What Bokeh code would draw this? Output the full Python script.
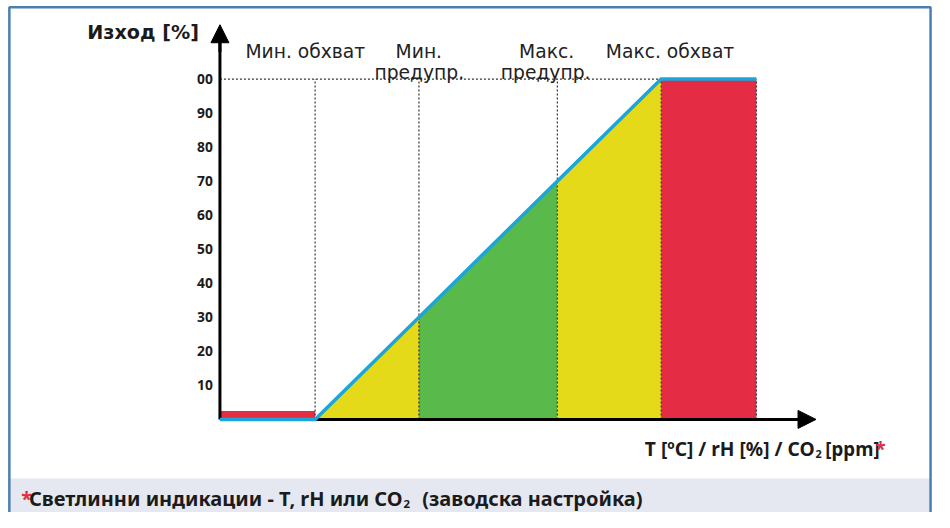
from bokeh.plotting import figure
from bokeh.models import Range1d, Arrow, NormalHead
from bokeh.embed import file_html
from bokeh.resources import INLINE
from bokeh.core.properties import value

# ---------------- data ----------------
# controller output [%] as a function of the measured input (in % of the range)
ramp_x = [-27.5, 0, 100, 127.5]
ramp_y = [0, 0, 100, 100]
# zone boundaries (input %): min coverage, min warning, max warning, max coverage, end
zone_edges = [0, 30, 70, 100, 127.5]
low_bar_x = [-27.5, 0]
low_bar_top = 2.5
y_ticks = [10, 20, 30, 40, 50, 60, 70, 80, 90, 100]
y_tick_labels = ["10", "20", "30", "40", "50", "60", "70", "80", "90", "00"]
zone_line1 = ["Мин. обхват", "Мин.", "Макс.", "Макс. обхват"]
zone_line2 = ["", "предупр.", "предупр.", ""]
y_title = "Изход [%]"
x_title_main = "T [ºC] / rH [%] / CO"
x_title_sub = "2"
x_title_tail = "[ppm]"
footer_main = "Светлинни индикации - T, rH или CO"
footer_sub = "2"
footer_tail = "(заводска настройка)"

# ---------------- layout ----------------
# positions below are given in a 950 x 528 design grid that is scaled onto the canvas
W, H = 934, 512
GW, GH = 950.0, 528.0
FS = W / GW
X0_PX, X100_PX = 320.0, 672.0
Y0_PX, Y100_PX = 432.0, 81.0
SX = (X100_PX - X0_PX) / 100.0
SY = (Y0_PX - Y100_PX) / 100.0


def px2x(X):
    return (X - X0_PX) / SX


def py2y(Y):
    return (Y0_PX - Y) / SY


def fs(size):
    return f"{size * FS:.1f}px"


YELLOW = "#E5DA1A"
GREEN = "#59B94B"
RED = "#E52C45"
BLUE = "#1AA6D9"
BORDER = "#4A80B0"
BAND = "#E6E8F1"
INK = "#1b1b1b"
GUIDE = "#333333"

p = figure(width=W, height=H,
           x_range=Range1d(px2x(0), px2x(GW)),
           y_range=Range1d(py2y(GH), py2y(0)),
           x_axis_type=None, y_axis_type=None,
           toolbar_location=None, output_backend="svg",
           min_border=0, outline_line_color=None,
           background_fill_color="white", border_fill_color="white")

# footer band and frame border
p.quad(left=px2x(9), right=px2x(946), bottom=py2y(GH), top=py2y(493),
       fill_color=BAND, line_color=None)
p.multi_line(xs=[[px2x(9), px2x(9), px2x(946), px2x(946)]],
             ys=[[py2y(GH), py2y(7), py2y(7), py2y(GH)]],
             line_color=BORDER, line_width=2.5)

# zones
e = zone_edges
p.patch([e[0], e[1], e[1]], [ramp_y[1], e[1], 0], fill_color=YELLOW, line_color=None)
p.patch([e[1], e[1], e[2], e[2]], [0, e[1], e[2], 0], fill_color=GREEN, line_color=None)
p.patch([e[2], e[2], e[3], e[3]], [0, e[2], e[3], 0], fill_color=YELLOW, line_color=None)
p.quad(left=e[3], right=e[4], bottom=0, top=ramp_y[-1], fill_color=RED, line_color=None)
p.quad(left=low_bar_x[0], right=low_bar_x[1], bottom=0, top=low_bar_top,
       fill_color=RED, line_color=None)

# dotted guides
p.segment(x0=e, y0=[0] * len(e), x1=e, y1=[100] * len(e),
          line_color=GUIDE, line_width=1.2, line_dash="2 2")
p.segment(x0=[ramp_x[0]], y0=[100], x1=[e[3]], y1=[100],
          line_color=GUIDE, line_width=1.2, line_dash="2 2")

# axes
y_tip = py2y(25)
x_tip = px2x(829.5)
p.segment(x0=[ramp_x[0]], y0=[0], x1=[ramp_x[0]], y1=[y_tip - 3], line_color="black", line_width=3)
p.segment(x0=[ramp_x[0]], y0=[0], x1=[x_tip - 3], y1=[0], line_color="black", line_width=3)
p.add_layout(Arrow(end=NormalHead(size=18, fill_color="black", line_color="black"),
                   x_start=ramp_x[0], y_start=y_tip - 8, x_end=ramp_x[0], y_end=y_tip,
                   line_color="black", line_width=3))
p.add_layout(Arrow(end=NormalHead(size=18, fill_color="black", line_color="black"),
                   x_start=x_tip - 8, y_start=0, x_end=x_tip, y_end=0,
                   line_color="black", line_width=3))

# output characteristic
p.line(ramp_x, ramp_y, line_color=BLUE, line_width=3.5, line_join="miter")

# y tick labels
p.text(x=[px2x(216)] * len(y_ticks), y=y_ticks, text=y_tick_labels,
       text_align="right", text_baseline="middle",
       text_font=value("Noto Sans"), text_font_style="bold",
       text_font_size=fs(14), text_color=INK)

# zone captions
line1_px = [310, 425.5, 555.5, 681]
line2_px = [310, 426, 554.5, 681]
p.text(x=[px2x(v) for v in line1_px], y=[py2y(53)] * 4, text=zone_line1,
       text_align="center", text_baseline="alphabetic",
       text_font=value("DejaVu Sans"), text_font_size=fs(19), text_color="#222222")
p.text(x=[px2x(v) for v in line2_px], y=[py2y(74)] * 4, text=zone_line2,
       text_align="center", text_baseline="alphabetic",
       text_font=value("DejaVu Sans"), text_font_size=fs(19), text_color="#222222")

# y title
p.text(x=[px2x(145)], y=[py2y(33)], text=[y_title], text_align="center",
       text_baseline="alphabetic", text_font=value("DejaVu Sans"),
       text_font_style="bold", text_font_size=fs(19.5), text_color=INK)

# x title
bold = dict(text_font=value("Noto Sans"), text_font_style="bold", text_color=INK,
            text_baseline="alphabetic")
p.text(x=[px2x(828)], y=[py2y(462.5)], text=[x_title_main], text_align="right",
       text_font_size=fs(19.5), **bold)
p.text(x=[px2x(829)], y=[py2y(468)], text=[x_title_sub], text_align="left",
       text_font_size=fs(11), **bold)
p.text(x=[px2x(839)], y=[py2y(462.5)], text=[x_title_tail], text_align="left",
       text_font_size=fs(19), **bold)
p.text(x=[px2x(890)], y=[py2y(462.5)], text=["*"], text_align="left",
       text_font=value("Noto Sans"), text_font_style="bold", text_color=RED,
       text_baseline="alphabetic", text_font_size=fs(19))

# footer
FOOT_BASE = 514
p.text(x=[px2x(21)], y=[py2y(FOOT_BASE)], text=["*"], text_align="left",
       text_font=value("Noto Sans"), text_font_style="bold", text_color=RED,
       text_baseline="alphabetic", text_font_size=fs(20))
p.text(x=[px2x(409)], y=[py2y(FOOT_BASE)], text=[footer_main], text_align="right",
       text_font_size=fs(20.3), **bold)
p.text(x=[px2x(410)], y=[py2y(FOOT_BASE + 5)], text=[footer_sub], text_align="left",
       text_font_size=fs(11.5), **bold)
p.text(x=[px2x(429)], y=[py2y(FOOT_BASE)], text=[footer_tail], text_align="left",
       text_font_size=fs(20.3), **bold)

open("out.html", "w").write(file_html(p, INLINE))
